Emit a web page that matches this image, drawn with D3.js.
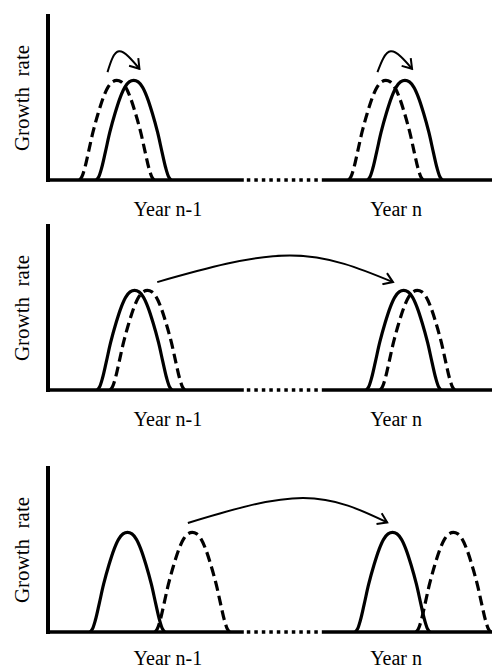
<!DOCTYPE html>
<html><head><meta charset="utf-8">
<script src="https://cdn.jsdelivr.net/npm/d3@7"></script>
<style>body{margin:0;background:#fff}svg{display:block}</style></head>
<body><svg id="c" width="492" height="669"></svg>
<script>
// ---- data ----
const yearLabels = ["Year n-1", "Year n"];
const yearLabelX = [27, 78.4];
const yAxisTitle = "Growth  rate";
// bell-shaped growth profile: relative position in season -> relative growth rate
const profileT = [0, 0.03, 0.07, 0.12, 0.18, 0.25, 0.32, 0.38, 0.44, 0.5, 0.56, 0.62, 0.68, 0.75, 0.82, 0.88, 0.93, 0.97, 1];
const profileY = [0, 0.03, 0.12, 0.28, 0.48, 0.67, 0.83, 0.93, 0.985, 1, 0.985, 0.93, 0.83, 0.67, 0.48, 0.28, 0.12, 0.03, 0];
const seasonWidth = 16.8;
const peakRate = 0.6;
// peak positions (time units) per panel, [year n-1, year n]
const solidPeaks  = [[19.3, 80.4], [19.5, 80.1], [17.9, 77.6]];
const dashedPeaks = [[15.5, 76.1], [22.4, 83.2], [32.5, 91.3]];
// arrows per panel: x (start, top, end) and y (start, top, end)
const arrowX = [[[13.4, 16.0, 20.6], [74.2, 77.2, 82.0]], [[24.6, 54.5, 77.7]], [[31.5, 57.4, 76.4]]];
const arrowY = [[[0.65, 0.775, 0.67], [0.65, 0.775, 0.67]], [[0.65, 0.81, 0.65]], [[0.657, 0.807, 0.66]]];
const gapStart = 44.1, gapEnd = 61.7;

// ---- layout ----
const W = 492, H = 669;
const panels = [
  {top: 14, base: 180, labelY: 216},
  {top: 224, base: 390, labelY: 426},
  {top: 466, base: 632, labelY: 665}
];
const x = d3.scaleLinear().domain([0, 100]).range([48, 492]);
const svg = d3.select("#c");

const defs = svg.append("defs");
defs.append("marker").attr("id", "ah")
  .attr("markerUnits", "userSpaceOnUse")
  .attr("viewBox", "-1 -1 12 14").attr("markerWidth", 12).attr("markerHeight", 14)
  .attr("refX", 9).attr("refY", 6).attr("orient", "auto")
  .append("path").attr("d", "M0,0 L9,6 L0,12")
  .attr("fill", "none").attr("stroke", "#000").attr("stroke-width", 2);

panels.forEach((p, i) => {
  const y = d3.scaleLinear().domain([0, 1]).range([p.base, p.top]);
  const g = svg.append("g");

  // y axis line
  g.append("line").attr("x1", x(0)).attr("x2", x(0))
    .attr("y1", y(1)).attr("y2", y(0) + 2)
    .attr("stroke", "#000").attr("stroke-width", 4);
  // baseline (solid, dotted gap, solid)
  g.append("line").attr("x1", x(0) - 2).attr("x2", x(gapStart)).attr("y1", y(0)).attr("y2", y(0))
    .attr("stroke", "#000").attr("stroke-width", 3.5);
  g.append("line").attr("x1", x(gapStart) + 3).attr("x2", x(gapEnd)).attr("y1", y(0)).attr("y2", y(0))
    .attr("stroke", "#000").attr("stroke-width", 3.5).attr("stroke-dasharray", "3.5,4");
  g.append("line").attr("x1", x(gapEnd)).attr("x2", x(100)).attr("y1", y(0)).attr("y2", y(0))
    .attr("stroke", "#000").attr("stroke-width", 3.5);

  // y title
  g.append("text").attr("transform", `translate(29,${(y(0) + y(1)) / 2 + 1}) rotate(-90)`)
    .attr("text-anchor", "middle").attr("xml:space", "preserve")
    .style("white-space", "pre")
    .attr("font-family", "'Liberation Serif','Times New Roman',serif").attr("font-size", 21)
    .text(yAxisTitle);

  // year labels
  yearLabels.forEach((lab, k) => {
    g.append("text").attr("x", x(yearLabelX[k])).attr("y", p.labelY)
      .attr("text-anchor", "middle")
      .attr("font-family", "'Liberation Serif','Times New Roman',serif").attr("font-size", 20)
      .text(lab);
  });

  const line = d3.line().x(d => x(d[0])).y(d => y(d[1])).curve(d3.curveCatmullRom.alpha(0.5));
  const curvePts = c => profileT.map((t, j) => [c - seasonWidth / 2 + t * seasonWidth, profileY[j] * peakRate]);

  solidPeaks[i].forEach(c => {
    g.append("path").attr("d", line(curvePts(c))).attr("fill", "none")
      .attr("stroke", "#000").attr("stroke-width", 3.2).attr("stroke-linejoin", "round");
  });
  dashedPeaks[i].forEach(c => {
    g.append("path").attr("d", line(curvePts(c))).attr("fill", "none")
      .attr("stroke", "#000").attr("stroke-width", 3.2).attr("stroke-dasharray", "10,5");
  });

  const aline = d3.line().x(d => x(d[0])).y(d => y(d[1])).curve(d3.curveNatural);
  arrowX[i].forEach((ax, k) => {
    const pts = ax.map((v, j) => [v, arrowY[i][k][j]]);
    g.append("path").attr("d", aline(pts)).attr("fill", "none")
      .attr("stroke", "#000").attr("stroke-width", 2)
      .attr("marker-end", "url(#ah)");
  });
});
</script>
</body></html>
